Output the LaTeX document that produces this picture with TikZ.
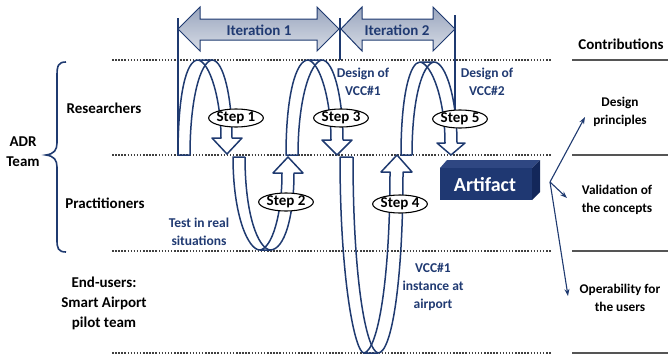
\documentclass[tikz,border=0pt]{standalone}
\usepackage{fontspec}
\setmainfont{Carlito}
\usetikzlibrary{arrows.meta,shapes.geometric}
\definecolor{navy}{HTML}{1F3A70}
\definecolor{navytext}{HTML}{203A72}
\definecolor{boxfront}{HTML}{1F3872}
\definecolor{boxtop}{HTML}{2F4782}
\definecolor{boxside}{HTML}{13275A}
\definecolor{rulegray}{HTML}{555555}
\tikzset{
  rowlabel/.style={font=\fontsize{15}{20}\selectfont\bfseries, align=center, text=black},
  contrib/.style={font=\fontsize{13.3}{17.5}\selectfont\bfseries, align=center, text=black},
  note/.style={font=\fontsize{13.5}{18}\selectfont\bfseries, align=center, text=navytext},
  stepnode/.style={ellipse, draw=black, line width=1.1pt, fill=white,
    font=\fontsize{15}{18}\selectfont\bfseries, minimum width=54pt,
    minimum height=18pt, inner sep=0pt},
  ribbon/.style={draw=navy, line width=1.5pt, line join=round},
  laneline/.style={draw=black!75, line width=1.5pt, dash pattern=on 1.5pt off 1.6pt},
  contribrule/.style={draw=rulegray, line width=2pt},
  iterarrow/.style={draw=navy, line width=1pt, top color=navy!45, middle color=white, bottom color=navy!18},
  marker/.style={draw=navy, line width=1.2pt},
  outarrow/.style={draw=navy, line width=1.1pt, -{Stealth[length=7pt,width=5pt]}}
}
\begin{document}
\begin{tikzpicture}[x=1pt,y=-1pt]
\useasboundingbox (0,0) rectangle (668,356);

% swim-lane separators
\foreach \yy in {60,155,251,353}{
  \path[laneline] (112,\yy) -- (552,\yy);
  \path[contribrule] (572,\yy) -- (668,\yy);
}

% lane labels and brace
\node[rowlabel] (res) at (104,108) {Researchers};
\node[rowlabel] (prac) at (105,203) {Practitioners};
\node[rowlabel] (endu) at (104,303) {End-users:\\Smart Airport\\pilot team};
\node[rowlabel] (adr) at (23,152) {ADR\\Team};
\draw[navy, line width=1.6pt]
  (66,62) .. controls (58,62) and (57,66) .. (57,76) -- (57,143)
  .. controls (57,150) and (54,154) .. (46,155)
  .. controls (54,156) and (57,160) .. (57,167) -- (57,240)
  .. controls (57,248) and (58,252) .. (66,252);

% contributions column
\node[rowlabel] (contr) at (621,44) {Contributions};
\node[contrib] (c1) at (620,112) {Design\\principles};
\node[contrib] (c2) at (617,200) {Validation of\\the concepts};
\node[contrib] (c3) at (620,298) {Operability for\\the users};

% iteration markers
\path[marker] (178,18) -- (178,155);
\path[marker] (340,18) -- (340,60);
\path[marker] (455,15) -- (455,110);
\path[iterarrow] (178,29) -- (200,7) -- (200,19) -- (317,19) -- (317,7) -- (339,29)
  -- (317,51) -- (317,40) -- (200,40) -- (200,51) -- cycle;
\path[iterarrow] (341,29) -- (362,7) -- (362,19) -- (433,19) -- (433,7) -- (455,29)
  -- (433,51) -- (433,40) -- (362,40) -- (362,51) -- cycle;
\node[font=\fontsize{15}{18}\selectfont\bfseries, text=navytext] (it1) at (259,30) {Iteration 1};
\node[font=\fontsize{15}{18}\selectfont\bfseries, text=navytext] (it2) at (397,30) {Iteration 2};

% loop 1: researchers
\path[ribbon] (190,155) -- (178,155) .. controls (178,95) and (186,60) .. (198,60) -- (212,60)
  .. controls (224,60) and (232,100) .. (232,138) -- (242,138) -- (227,154) -- (212,138)
  -- (221,138) .. controls (221,100) and (210,62) .. (198,60);
\path[ribbon] (190,155) .. controls (190,100) and (200,62) .. (212,60);

% loop 2: practitioners
\path[ribbon] (245,157) -- (233,157) .. controls (233,215) and (248,250) .. (260,250) -- (270,250)
  .. controls (285,250) and (294,215) .. (294,173) -- (303,173) -- (288,157) -- (273,173)
  -- (282,173) .. controls (282,215) and (272,248) .. (260,250);
\path[ribbon] (245,157) .. controls (245,215) and (258,248) .. (270,250);

% loop 3: researchers
\path[ribbon] (298,155) -- (286,155) .. controls (286,95) and (296,60) .. (308,60) -- (322,60)
  .. controls (334,60) and (343,100) .. (343,140) -- (352,140) -- (337,155) -- (322,140)
  -- (331,140) .. controls (331,100) and (320,62) .. (308,60);
\path[ribbon] (298,155) .. controls (298,100) and (310,62) .. (322,60);

% loop 4: down to the end-users
\path[ribbon] (353,157) -- (340,157) .. controls (340,280) and (355,353) .. (364,353) -- (378,353)
  .. controls (392,353) and (403,280) .. (403,172) -- (412,172) -- (397,155) -- (381,172)
  -- (390,172) .. controls (390,280) and (378,350) .. (364,353);
\path[ribbon] (353,157) .. controls (353,280) and (366,350) .. (378,353);

% loop 5: researchers
\path[ribbon] (412,155) -- (401,155) .. controls (401,95) and (410,62) .. (420,62) -- (434,62)
  .. controls (446,62) and (457,100) .. (457,143) -- (465,143) -- (451,155) -- (437,143)
  -- (445,143) .. controls (445,100) and (432,64) .. (420,62);
\path[ribbon] (412,155) .. controls (412,100) and (422,64) .. (434,62);

% step labels
\node[stepnode] (s1) at (236,118) {Step 1};
\node[stepnode] (s2) at (286,202) {Step 2};
\node[stepnode] (s3) at (341,118) {Step 3};
\node[stepnode] (s4) at (400,204) {Step 4};
\node[stepnode] (s5) at (460,119) {Step 5};

% annotations
\node[note] (n1) at (363,82) {Design of\\VCC\#1};
\node[note] (n2) at (487,82) {Design of\\VCC\#2};
\node[note] (n3) at (199,232) {Test in real\\situations};
\node[note] (n4) at (433,287) {VCC\#1\\instance at\\airport};

% artifact block
\fill[boxtop] (440,168) -- (447,160) -- (540,160) -- (532,168) -- cycle;
\fill[boxside] (532,168) -- (540,160) -- (540,192) -- (532,200) -- cycle;
\fill[boxfront] (440,168) rectangle (532,200);
\node[font=\fontsize{20}{24}\selectfont\bfseries, text=white] (art) at (485,185) {Artifact};

% outputs of the artifact
\coordinate (src) at (550,182);
\coordinate (t1) at (585,117);
\coordinate (t2) at (567,198);
\coordinate (t3) at (568,296);
\draw[outarrow] (src) -- (t1);
\draw[outarrow] (src) -- (t2);
\draw[outarrow] (src) -- (t3);
\end{tikzpicture}
\end{document}
